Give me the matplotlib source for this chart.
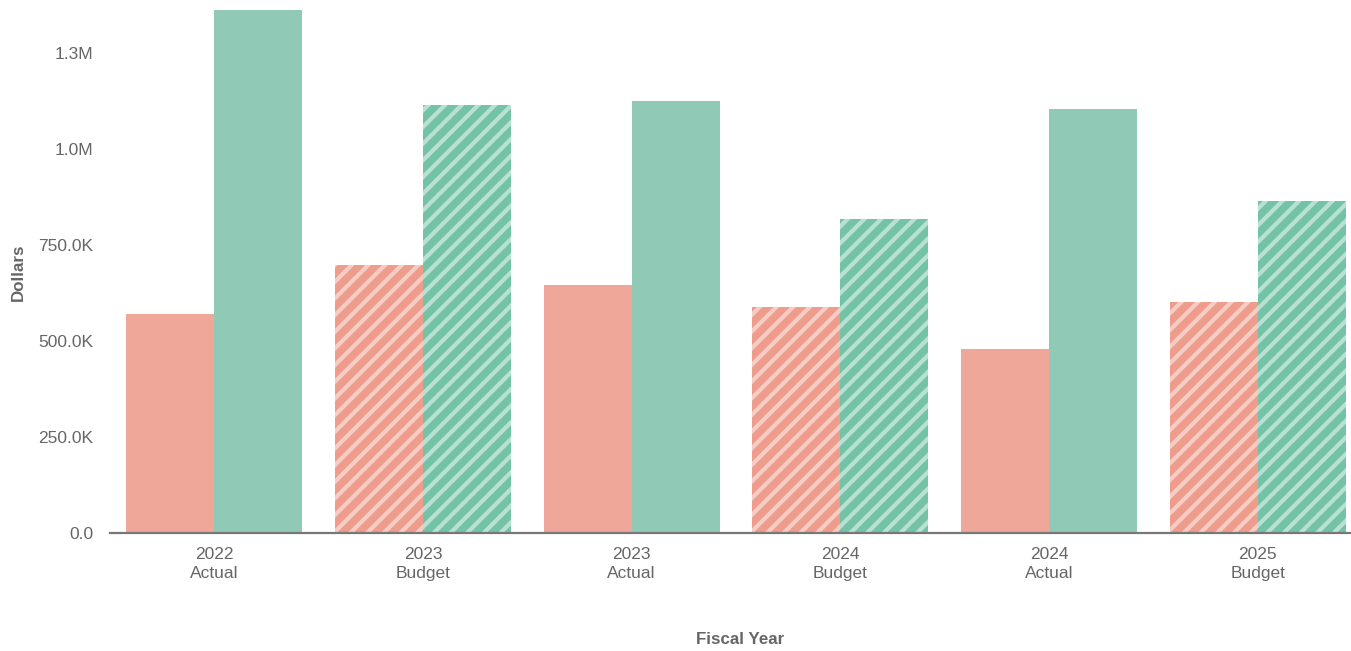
import matplotlib
matplotlib.use("Agg")
import matplotlib.pyplot as plt
import numpy as np

plt.rcParams['font.family'] = ['Liberation Sans', 'DejaVu Sans']
plt.rcParams['hatch.linewidth'] = 3.0

categories = ["2022\nActual", "2023\nBudget", "2023\nActual", "2024\nBudget", "2024\nActual", "2025\nBudget"]
is_budget = [False, True, False, True, False, True]
series_red = [570000, 698000, 646000, 589000, 479000, 602000]
series_green = [1362000, 1115000, 1125000, 818000, 1104000, 865000]
yticks = [0, 250000, 500000, 750000, 1000000, 1250000]
ytick_labels = ["0.0", "250.0K", "500.0K", "750.0K", "1.0M", "1.3M"]

red = "#EFA799"
green = "#90CAB7"
red_h = "#EE9C8B"
green_h = "#74C3A7"

W, H = 1351, 651
fig = plt.figure(figsize=(W / 100, H / 100), dpi=100)
ax = fig.add_axes([110 / W, 1 - 533 / H, (1362 - 110) / W, (533 - 8) / H])

x = np.arange(len(categories))
bw = 0.422
for i in range(len(categories)):
    if is_budget[i]:
        ax.bar(x[i] - bw / 2, series_red[i], width=bw, color=red_h, edgecolor=(1, 1, 1, 0.5),
               linewidth=0, hatch='//')
        ax.bar(x[i] + bw / 2, series_green[i], width=bw, color=green_h, edgecolor=(1, 1, 1, 0.5),
               linewidth=0, hatch='//')
    else:
        ax.bar(x[i] - bw / 2, series_red[i], width=bw, color=red, linewidth=0)
        ax.bar(x[i] + bw / 2, series_green[i], width=bw, color=green, linewidth=0)

ax.set_xlim(-0.5, 5.5)
ax.set_ylim(0, 1.367e6)
ax.set_yticks(yticks)
ax.set_yticklabels(ytick_labels)
ax.set_xticks(x)
ax.set_xticklabels(categories, linespacing=1.35)

for s in ["top", "right", "left"]:
    ax.spines[s].set_visible(False)
ax.spines["bottom"].set_color("#777777")
ax.spines["bottom"].set_linewidth(1.6)
ax.tick_params(axis="both", length=0, colors="#666666", labelsize=12.5)
ax.tick_params(axis="y", pad=12)
ax.tick_params(axis="x", pad=10)

fig.text(18 / W, 1 - 272 / H, "Dollars", rotation=90, ha="center", va="center",
         fontsize=12.2, fontweight="bold", color="#666666")
fig.text(740 / W, 1 - 640 / H, "Fiscal Year", ha="center", va="center",
         fontsize=12.2, fontweight="bold", color="#666666")

fig.savefig("out.png", dpi=100)
